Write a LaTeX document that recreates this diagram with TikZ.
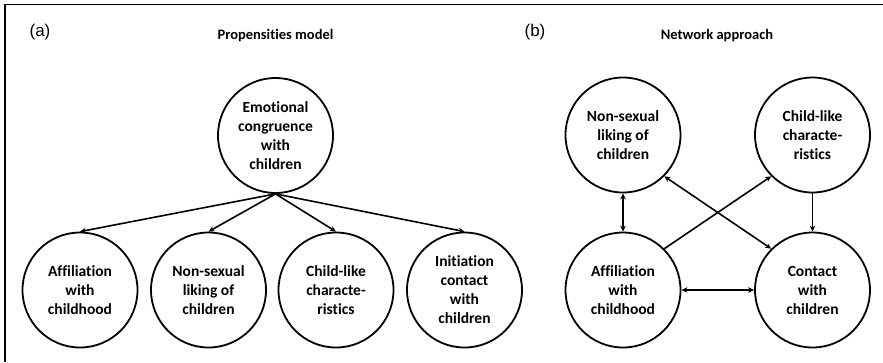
\documentclass[tikz,border=0pt]{standalone}
\usepackage{fontspec}
\setmainfont{Carlito}[Ligatures=NoCommon]
\newfontfamily\labelfont{Liberation Sans}
\usetikzlibrary{arrows.meta}
\begin{document}
\begin{tikzpicture}[x=1pt,y=-1pt,
  bubble/.style={circle,draw,line width=1.8pt,minimum size=115pt,inner sep=0pt,
    align=center,font=\fontsize{15.5}{19}\selectfont\bfseries},
  conn/.style={line width=1.6pt,-{Stealth[length=6pt,width=5.5pt]}},
  biconn/.style={line width=1.6pt,{Stealth[length=6pt,width=5.5pt]}-{Stealth[length=6pt,width=5.5pt]}},
  paneltag/.style={font=\labelfont\fontsize{17}{20}\selectfont},
  paneltitle/.style={font=\fontsize{14.5}{17}\selectfont\bfseries}]
\useasboundingbox (0,0) rectangle (883,362);
\draw[line width=1.6pt] (5,362) -- (5,4.5) -- (883,4.5);
% panel (a)
\node[paneltag] (taga) at (40,32) {(a)};
\node[paneltitle] (titlea) at (275.5,36) {Propensities model};
\node[bubble] (emo) at (275.5,135.5) {Emotional\\congruence\\with\\children};
\node[bubble] (aff) at (80,290) {Affiliation\\with\\childhood};
\node[bubble] (nsl) at (208.5,290) {Non-sexual\\liking of\\children};
\node[bubble] (clc) at (336,290) {Child-like\\characte-\\ristics};
\node[bubble] (ini) at (464.5,290) {Initiation\\contact\\with\\children};
\draw[conn] (emo.south) -- (aff.north);
\draw[conn] (emo.south) -- (nsl.north);
\draw[conn] (emo.south) -- (clc.north);
\draw[conn] (emo.south) -- (ini.north);
% panel (b)
\node[paneltag] (tagb) at (535,32) {(b)};
\node[paneltitle] (titleb) at (717,36) {Network approach};
\node[bubble] (bnsl) at (623,135) {Non-sexual\\liking of\\children};
\node[bubble] (bclc) at (812.5,135) {Child-like\\characte-\\ristics};
\node[bubble] (baff) at (623,290) {Affiliation\\with\\childhood};
\node[bubble] (bcon) at (812.5,290) {Contact\\with\\children};
\draw[biconn] (bnsl.south) -- (baff.north);
\draw[conn] (bclc.south) -- (bcon.north);
\draw[biconn] (baff.east) -- (bcon.west);
\draw[conn] (baff.45) -- (bclc.225);
\draw[biconn] (bnsl.-45) -- (bcon.135);
\end{tikzpicture}
\end{document}
